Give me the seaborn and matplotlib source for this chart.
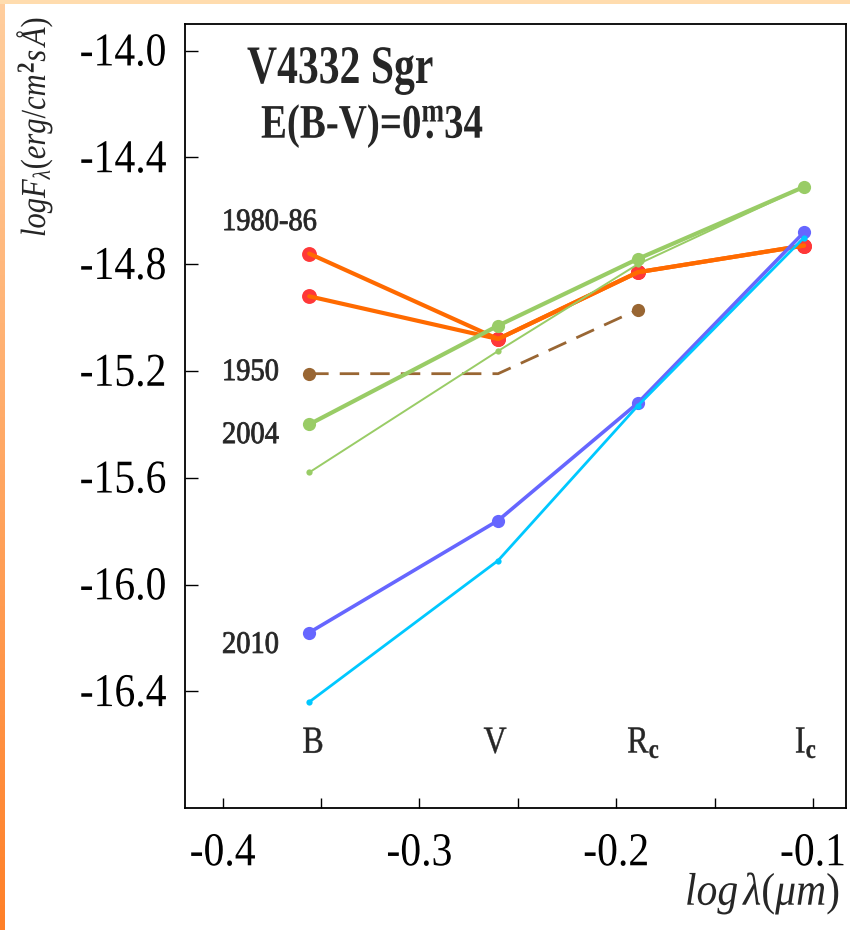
import numpy as np
import pandas as pd
import matplotlib
matplotlib.use("Agg")
import matplotlib.pyplot as plt
import seaborn as sns
from matplotlib import patheffects
from matplotlib.transforms import Affine2D
from matplotlib.ticker import FixedLocator, FormatStrFormatter

# Photometric bands and log of their effective wavelengths (micron)
bands = ["B", "V", "Rc", "Ic"]
log_lambda = [-0.356, -0.260, -0.189, -0.1045]

# log F_lambda per band for each epoch
flux_1980 = [-14.76, -15.08, -14.83, -14.73]
flux_1986 = [-14.92, -15.08, -14.83, -14.73]
flux_1950 = [-15.21, -15.21, -14.97]          # B, V, Rc only
flux_2004 = [-15.40, -15.03, -14.78, -14.51]
flux_2004_obs = [-15.58, -15.125, -14.80, -14.51]
flux_2010 = [-16.18, -15.76, -15.32, -14.68]
flux_2010_obs = [-16.44, -15.91, -15.33, -14.70]

y_ticks = [-14.0, -14.4, -14.8, -15.2, -15.6, -16.0, -16.4]
x_major = [-0.4, -0.3, -0.2, -0.1]
x_minor = [-0.35, -0.25, -0.15]

epoch_labels = ["1980-86", "1950", "2004", "2010"]
epoch_label_y = [-14.672, -15.234, -15.47, -16.256]
band_labels = ["B", "V", r"R$_{\mathbf{c}}$", r"I$_{\mathbf{c}}$"]
band_label_x = [-0.354, -0.2615, -0.186, -0.1035]

sns.set_style("white")
plt.rcParams.update({
    "font.family": ["Liberation Serif", "DejaVu Serif"],
    "mathtext.fontset": "custom",
    "mathtext.rm": "Liberation Serif",
    "mathtext.it": "Liberation Serif:italic",
    "mathtext.bf": "Liberation Serif:bold",
    "axes.unicode_minus": False,
})


class TallGlyphs(patheffects.AbstractPathEffect):
    """Draw text glyphs stretched vertically about their baseline,
    optionally thickened with an outline in the text colour."""

    def __init__(self, factor, stroke=0.0):
        super().__init__()
        self._factor = factor
        self._stroke = stroke

    def draw_path(self, renderer, gc, tpath, affine, rgbFace=None):
        tr = Affine2D().scale(1.0, self._factor) + affine
        if self._stroke > 0 and rgbFace is not None:
            gc0 = renderer.new_gc()
            gc0.copy_properties(gc)
            gc0.set_linewidth(self._stroke)
            gc0.set_foreground(rgbFace)
            renderer.draw_path(gc0, tpath, tr, rgbFace)
            gc0.restore()
        else:
            renderer.draw_path(gc, tpath, tr, rgbFace)


W, H = 850, 930
fig = plt.figure(figsize=(W / 100, H / 100), dpi=100)
fig.patch.set_facecolor("white")

# orange frame strips on the left and top edges
strip = fig.add_axes([0, 0, 5 / W, 1])
grad = np.linspace(0, 1, 256)[:, None]
top_c = np.array([255, 206, 158]) / 255
bot_c = np.array([255, 128, 40]) / 255
img = top_c[None, None, :] * (1 - grad[..., None]) + bot_c[None, None, :] * grad[..., None]
strip.imshow(img, aspect="auto", extent=[0, 1, 0, 1])
strip.set_axis_off()
topstrip = fig.add_axes([0, 1 - 4 / H, 1, 4 / H])
topstrip.set_facecolor("#ffdcae")
topstrip.set_xticks([]); topstrip.set_yticks([])
for s in topstrip.spines.values():
    s.set_visible(False)

left, right, top, bottom = 185, 846, 24, 808
ax = fig.add_axes([left / W, 1 - bottom / H, (right - left) / W, (bottom - top) / H])
ax.set_facecolor("white")


def frame(values, name):
    return pd.DataFrame({"loglam": log_lambda[:len(values)], "flux": values, "epoch": name})


RED, ORANGE = "#ff3838", "#ff6a00"
GREEN, BROWN = "#99cc66", "#996633"
BLUE, CYAN = "#6666ff", "#00c8ff"

d1980 = frame(flux_1980, "1980")
d1986 = frame(flux_1986, "1986")
for d in (d1980, d1986):
    sns.scatterplot(data=d, x="loglam", y="flux", color=RED, s=115, linewidth=0, ax=ax, zorder=3)
    sns.lineplot(data=d, x="loglam", y="flux", color=ORANGE, lw=3.0, ax=ax, zorder=4)

# 1950: markers only at the measured B and Rc points
sns.lineplot(data=frame(flux_1950, "1950"), x="loglam", y="flux", color=BROWN, lw=2.0,
             linestyle=(0, (7, 4)), marker="o", markersize=9.5, markeredgewidth=0,
             markevery=[0, 2], ax=ax, zorder=4)
sns.lineplot(data=frame(flux_2004_obs, "2004b"), x="loglam", y="flux", color=GREEN, lw=1.4,
             marker="o", markersize=4.5, markeredgewidth=0, ax=ax, zorder=5)
sns.lineplot(data=frame(flux_2004, "2004"), x="loglam", y="flux", color=GREEN, lw=3.0,
             marker="o", markersize=9.5, markeredgewidth=0, ax=ax, zorder=6)
sns.lineplot(data=frame(flux_2010_obs, "2010b"), x="loglam", y="flux", color=CYAN, lw=2.0,
             marker="o", markersize=4.5, markeredgewidth=0, ax=ax, zorder=6)
sns.lineplot(data=frame(flux_2010, "2010"), x="loglam", y="flux", color=BLUE, lw=2.6,
             marker="o", markersize=9.5, markeredgewidth=0, ax=ax, zorder=5)

ax.set_xlim(-0.4191, -0.0832)
ax.set_ylim(-16.837, -13.90)
ax.set_xlabel("")
ax.set_ylabel("")
ax.xaxis.set_major_locator(FixedLocator(x_major))
ax.xaxis.set_minor_locator(FixedLocator(x_minor))
ax.yaxis.set_major_locator(FixedLocator(y_ticks))
ax.xaxis.set_major_formatter(FormatStrFormatter("%.1f"))
ax.yaxis.set_major_formatter(FormatStrFormatter("%.1f"))
ax.tick_params(axis="x", which="both", direction="in", length=7.5, width=1.0,
               bottom=True, top=False, labelsize=30, pad=20, colors="black")
ax.tick_params(axis="y", which="major", direction="in", length=9.5, width=1.0,
               left=True, right=False, labelsize=30, pad=13.5, colors="black")
for s in ax.spines.values():
    s.set_color("black")
    s.set_linewidth(1.3)

texts = []
for lab, yv in zip(epoch_labels, epoch_label_y):
    texts.append((ax.text(-0.4003, yv, lab, fontsize=20.5, ha="left", va="baseline"), 1.1, 0.6))
for lab, xv in zip(band_labels, band_label_x):
    texts.append((ax.text(xv, -16.63, lab, fontsize=23, ha="center", va="baseline"), 1.2, 0.3))

texts.append((fig.text(247 / W, 1 - 83 / H, "V4332 Sgr", fontsize=30, fontweight="bold",
                       ha="left", va="baseline"), 1.3, 0.0))
texts.append((fig.text(261 / W, 1 - 138 / H, r"E(B-V)=0$\overset{\mathbf{m}}{\mathbf{.}}$34",
                       fontsize=28, fontweight="bold", ha="left", va="baseline"), 1.24, 0.0))
texts.append((fig.text(35 / W, 1 - 17 / H, r"$logF_{\lambda}(erg/cm^{\mathbf{2}}s\,Å)$",
                       fontsize=22, rotation=90, ha="center", va="top"), 1.15, 0.0))
texts.append((fig.text(840 / W, 1 - 905 / H, r"$log\,\lambda(\mu m)$",
                       fontsize=30, ha="right", va="baseline"), 1.1, 0.0))

fig.canvas.draw()
for lbl in ax.get_xticklabels() + ax.get_yticklabels():
    lbl.set_path_effects([TallGlyphs(1.13)])
for t, f, w in texts:
    t.set_path_effects([TallGlyphs(f, w)])

fig.savefig("out.png", dpi=100, facecolor="white")
